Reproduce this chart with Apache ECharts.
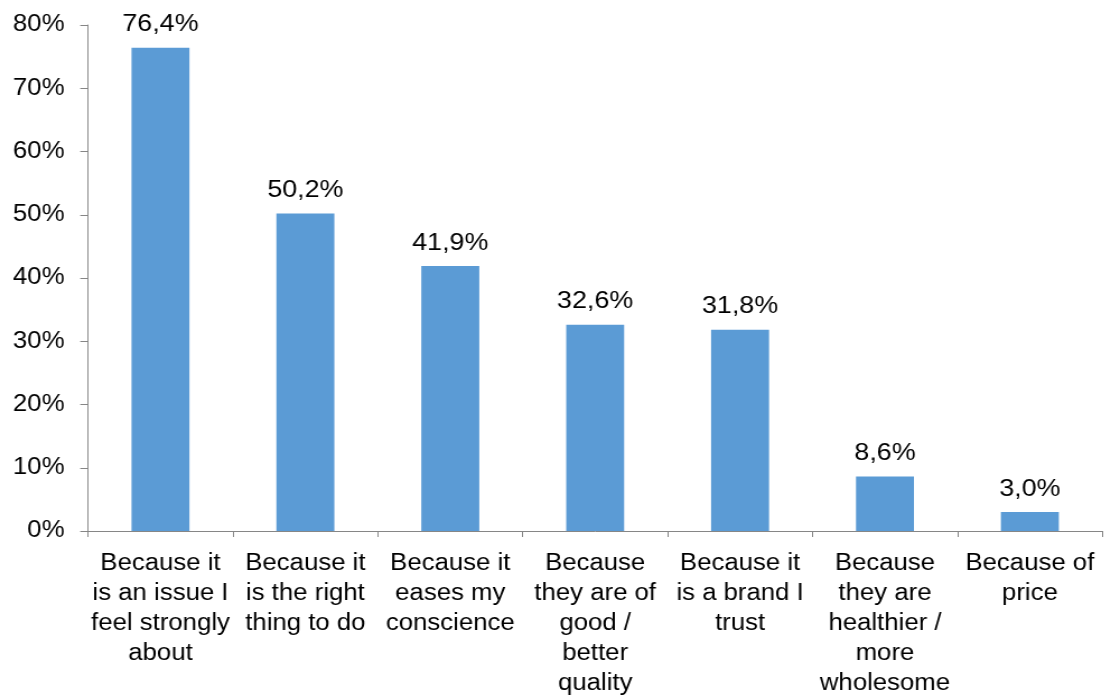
<!DOCTYPE html>
<html>
<head>
<meta charset="utf-8">
<script src="https://cdn.jsdelivr.net/npm/echarts@6/dist/echarts.min.js"></script>
<style>
html,body{margin:0;padding:0;background:#fff;overflow:hidden;}
#wrap{width:1104px;height:699px;overflow:hidden;}
#chart{width:985.7px;height:699px;transform:scaleX(1.12);transform-origin:0 0;}
</style>
</head>
<body>
<div id="wrap"><div id="chart"></div></div>
<script>
const categories = [
  "Because it\nis an issue I\nfeel strongly\nabout",
  "Because it\nis the right\nthing to do",
  "Because it\neases my\nconscience",
  "Because\nthey are of\ngood /\nbetter\nquality",
  "Because it\nis a brand I\ntrust",
  "Because\nthey are\nhealthier /\nmore\nwholesome",
  "Because of\nprice"
];
const values = [76.4, 50.2, 41.9, 32.6, 31.8, 8.6, 3.0];
const yTicks = [0, 10, 20, 30, 40, 50, 60, 70, 80];

const font = "'Liberation Sans', Arial, sans-serif";
const chart = echarts.init(document.getElementById('chart'), null, {renderer: 'canvas'});
chart.setOption({
  animation: false,
  grid: {left: 78.6, right: 1.8, top: 25, bottom: 167, containLabel: false},
  xAxis: {
    type: 'category',
    data: categories,
    axisLine: {show: true, lineStyle: {color: '#868686', width: 1}},
    axisTick: {show: true, alignWithLabel: false, interval: 0, length: 6, lineStyle: {color: '#868686'}},
    axisLabel: {interval: 0, color: '#000', fontFamily: font, fontSize: 23, lineHeight: 30, margin: 18, align: 'center'}
  },
  yAxis: {
    type: 'value',
    min: yTicks[0],
    max: yTicks[yTicks.length - 1],
    interval: 10,
    splitLine: {show: false},
    axisLine: {show: true, lineStyle: {color: '#868686', width: 1}},
    axisTick: {show: true, length: 7, lineStyle: {color: '#868686'}},
    axisLabel: {color: '#000', fontFamily: font, fontSize: 23, margin: 21, formatter: v => v + '%'}
  },
  series: [{
    type: 'bar',
    data: values,
    barWidth: '40%',
    itemStyle: {color: '#5B9BD5'},
    label: {
      show: true, position: 'top', distance: 11,
      color: '#000', fontFamily: font, fontSize: 24,
      formatter: p => p.value.toFixed(1).replace('.', ',') + '%'
    }
  }]
});
</script>
</body>
</html>
